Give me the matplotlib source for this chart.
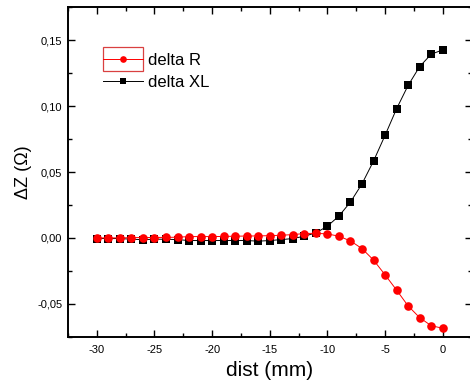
import matplotlib
matplotlib.use("Agg")
import matplotlib.pyplot as plt
from matplotlib.ticker import MultipleLocator, FuncFormatter
from matplotlib.patches import Rectangle
from matplotlib.lines import Line2D
from matplotlib.legend_handler import HandlerBase

plt.rcParams['font.family'] = ['Liberation Sans', 'DejaVu Sans']

dist = list(range(-30, 1))
delta_R = [0.0000, 0.0000, 0.0000, 0.0002, 0.0003, 0.0003, 0.0004, 0.0005, 0.0010, 0.0010,
           0.0010, 0.0011, 0.0013, 0.0014, 0.0015, 0.0017, 0.0020, 0.0025, 0.0033, 0.0035,
           0.0030, 0.0013, -0.0023, -0.0081, -0.0168, -0.0280, -0.0396, -0.0516, -0.0605,
           -0.0666, -0.0686]
delta_XL = [-0.0005, -0.0005, -0.0005, -0.0010, -0.0013, -0.0010, -0.0010, -0.0013, -0.0020,
            -0.0020, -0.0020, -0.0020, -0.0020, -0.0020, -0.0025, -0.0020, -0.0013, -0.0005,
            0.0013, 0.0038, 0.0089, 0.0166, 0.0272, 0.0410, 0.0583, 0.0778, 0.0980, 0.1157,
            0.1300, 0.1394, 0.1427]

LEGEND_MS = 4.3


class BoxedLineHandler(HandlerBase):
    def create_artists(self, legend, orig_handle, xdescent, ydescent, width, height,
                       fontsize, trans):
        x0, y0 = -xdescent, -ydescent
        pad = 0.55 * height
        rect = Rectangle((x0, y0 - pad), width, height + 2 * pad, facecolor='none',
                         edgecolor='#d94040', linewidth=0.9, transform=trans)
        ym = y0 + height / 2
        line = Line2D([x0, x0 + width], [ym, ym], color=orig_handle.get_color(),
                      linewidth=orig_handle.get_linewidth(), transform=trans)
        mk = Line2D([x0 + width / 2], [ym], marker=orig_handle.get_marker(),
                    markersize=LEGEND_MS + 0.5, color=orig_handle.get_color(),
                    markeredgewidth=0, linestyle='none', transform=trans)
        return [rect, line, mk]


class CenterMarkerHandler(HandlerBase):
    def create_artists(self, legend, orig_handle, xdescent, ydescent, width, height,
                       fontsize, trans):
        x0, y0 = -xdescent, -ydescent
        ym = y0 + height / 2
        line = Line2D([x0, x0 + width], [ym, ym], color=orig_handle.get_color(),
                      linewidth=orig_handle.get_linewidth(), transform=trans)
        mk = Line2D([x0 + width / 2], [ym], marker=orig_handle.get_marker(),
                    markersize=LEGEND_MS, color=orig_handle.get_color(),
                    markeredgewidth=0, linestyle='none', transform=trans)
        return [line, mk]


fig = plt.figure(figsize=(4.70, 3.89), dpi=100)
ax = fig.add_axes([0.1447, 0.1344, 0.8585, 0.8468])

lR, = ax.plot(dist, delta_R, color='red', marker='o', markersize=6.2, linewidth=0.7,
              markeredgewidth=0, label='delta R', zorder=3)
lX, = ax.plot(dist, delta_XL, color='black', marker='s', markersize=5.6, linewidth=0.7,
              markeredgewidth=0, label='delta XL', zorder=2)

ax.set_xlim(-32.5, 2.5)
ax.set_ylim(-0.075, 0.175)
ax.xaxis.set_major_locator(MultipleLocator(5))
ax.xaxis.set_minor_locator(MultipleLocator(2.5))
ax.yaxis.set_major_locator(MultipleLocator(0.05))
ax.yaxis.set_minor_locator(MultipleLocator(0.025))
ax.yaxis.set_major_formatter(FuncFormatter(lambda v, p: f"{v:.2f}".replace('.', ',').replace('-0,00', '0,00')))
ax.xaxis.set_major_formatter(FuncFormatter(lambda v, p: f"{v:.0f}"))

ax.tick_params(which='both', direction='in', top=True, right=True, labelsize=8, width=1.0)
ax.tick_params(which='major', length=5)
ax.tick_params(which='minor', length=3)
ax.tick_params(axis='x', pad=6)
ax.tick_params(axis='y', pad=4)
for s in ax.spines.values():
    s.set_linewidth(1.4)

ax.set_xlabel('dist (mm)', fontsize=15, labelpad=4)
ax.set_ylabel('ΔZ (Ω)', fontsize=13, labelpad=4)

ax.legend(handles=[lR, lX], loc='upper left', bbox_to_anchor=(0.087, 0.862), frameon=False,
          fontsize=12, handlelength=2.4, handletextpad=0.3, borderpad=0, borderaxespad=0,
          labelspacing=0.42,
          handler_map={lR: BoxedLineHandler(), lX: CenterMarkerHandler()})

fig.savefig('out.png', dpi=100)
